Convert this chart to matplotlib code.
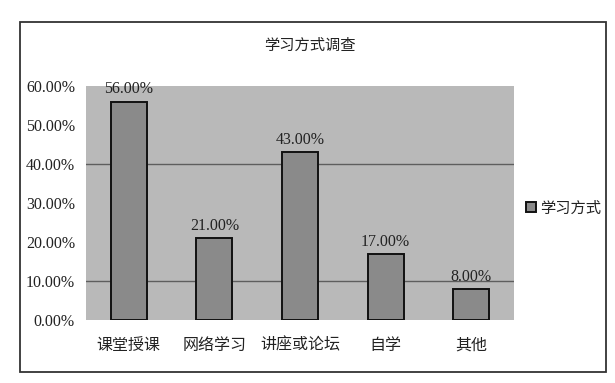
import matplotlib
matplotlib.use("Agg")
import matplotlib.pyplot as plt
from matplotlib.patches import Rectangle
from matplotlib.ticker import FuncFormatter

categories = ["课堂授课", "网络学习", "讲座或论坛", "自学", "其他"]
values = [0.56, 0.21, 0.43, 0.17, 0.08]
series_name = "学习方式"
title = "学习方式调查"
y_ticks = [0.0, 0.1, 0.2, 0.3, 0.4, 0.5, 0.6]
grid_levels = [0.1, 0.4]

cjk = ["Noto Sans CJK SC", "DejaVu Sans"]
num = ["Liberation Serif", "DejaVu Serif"]

fig = plt.figure(figsize=(6.15, 3.83), dpi=100)
fig.patch.set_facecolor("white")

# outer chart frame
W, H = 615, 383
fig.patches.append(Rectangle((20 / W, 1 - 372 / H), 586 / W, 350 / H,
                             transform=fig.transFigure, fill=False,
                             edgecolor="#333333", linewidth=1.3))

ax = fig.add_axes([86 / W, 1 - 320 / H, 428 / W, 234 / H])
ax.set_facecolor("#b9b9b9")
for s in ax.spines.values():
    s.set_visible(False)

for g in grid_levels:
    ax.axhline(g, color="#5e5e5e", linewidth=1.0, zorder=1)

x = range(len(categories))
bars = ax.bar(x, values, width=0.42, color="#8a8a8a", edgecolor="#111111",
              linewidth=1.4, label=series_name, zorder=3)

ax.set_xlim(-0.5, len(categories) - 0.5)
ax.set_ylim(0, 0.6)
ax.set_yticks(y_ticks)
ax.yaxis.set_major_formatter(FuncFormatter(lambda v, p: f"{v*100:.2f}%"))
ax.tick_params(axis="both", which="both", length=0)
ax.tick_params(axis="y", pad=8)
ax.tick_params(axis="x", pad=12)
for lab in ax.get_yticklabels():
    lab.set_family(num)
    lab.set_fontsize(11.5)
    lab.set_color("#222222")
ax.set_xticks(list(x))
ax.set_xticklabels(categories, family=cjk, fontsize=11.5, color="#222222")

for b, v in zip(bars, values):
    ax.annotate(f"{v*100:.2f}%", (b.get_x() + b.get_width() / 2, v),
                xytext=(0, 3), textcoords="offset points", ha="center",
                va="bottom", family=num, fontsize=11.5, color="#222222", zorder=4)

fig.text(310 / W, 1 - 45 / H, title, ha="center", va="center",
         family=cjk, fontsize=11, color="#222222")

leg = fig.legend(handles=[bars], labels=[series_name],
                 loc="center left", bbox_to_anchor=(526 / W, 1 - 208 / H),
                 prop={"family": cjk, "size": 11}, frameon=False,
                 handlelength=0.65, handleheight=0.65, handletextpad=0.3,
                 borderaxespad=0, borderpad=0)
for t in leg.get_texts():
    t.set_color("#222222")

fig.savefig("out.png", dpi=100)
